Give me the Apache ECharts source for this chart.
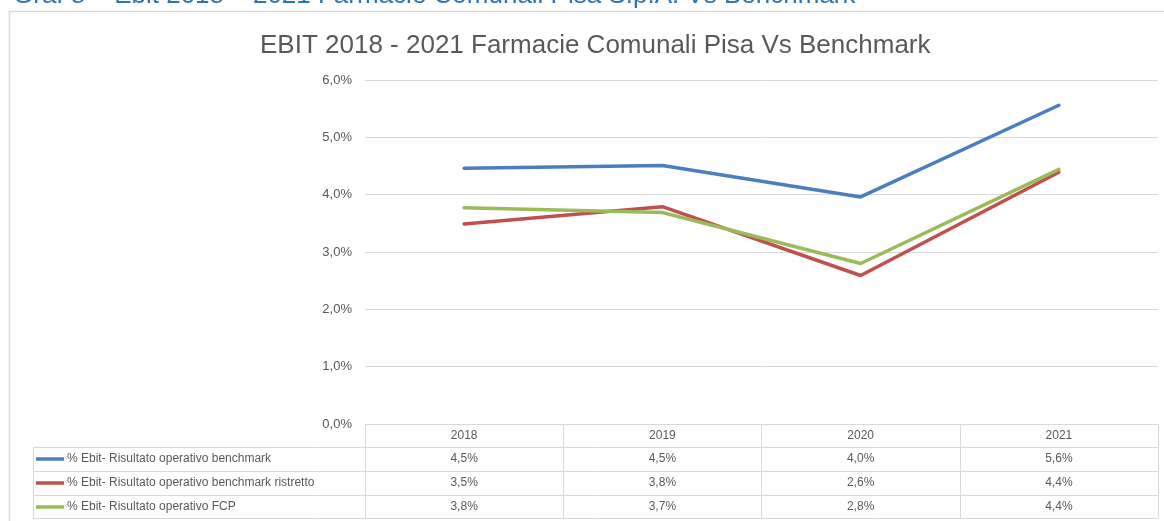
<!DOCTYPE html>
<html>
<head>
<meta charset="utf-8">
<script src="https://cdn.jsdelivr.net/npm/echarts@6/dist/echarts.min.js"></script>
<style>
  html, body { margin: 0; padding: 0; background: #fff; }
  #chart { width: 1164px; height: 521px; }
</style>
</head>
<body>
<div id="chart"></div>
<script>
// dati (valori in %)
const years = ['2018', '2019', '2020', '2021'];
const seriesNames = [
  '% Ebit- Risultato operativo benchmark',
  '% Ebit- Risultato operativo benchmark ristretto',
  '% Ebit- Risultato operativo FCP'
];
const benchmark = [4.46, 4.51, 3.96, 5.56];
const benchmarkRistretto = [3.49, 3.79, 2.59, 4.39];
const fcp = [3.77, 3.69, 2.80, 4.44];
const yTicks = [0, 1, 2, 3, 4, 5, 6];

const colors = ['#4a7ebf', '#c0504d', '#9bbb59'];
const textColor = '#595959';
const lineGrey = '#d9d9d9';
const font = 'Liberation Sans';

const pct = v => v.toFixed(1).replace('.', ',') + '%';

const myChart = echarts.init(document.getElementById('chart'));

const rows = [benchmark, benchmarkRistretto, fcp];

const option = {
  animation: false,
  textStyle: { fontFamily: font },
  title: {
    text: 'EBIT 2018 - 2021 Farmacie Comunali Pisa Vs Benchmark',
    left: 255,
    top: 28,
    textStyle: { fontFamily: font, fontSize: 26, fontWeight: 'normal', color: textColor }
  },
  legend: {
    orient: 'vertical',
    left: 36,
    top: 452,
    height: 120,
    padding: 0,
    icon: 'rect',
    itemWidth: 28,
    itemHeight: 3.5,
    itemGap: 10,
    selectedMode: false,
    data: seriesNames,
    textStyle: { fontFamily: font, fontSize: 12, lineHeight: 14, color: textColor, padding: [0, 0, 0, -2] }
  },
  grid: { left: 365, right: 6, top: 80, bottom: 97 },
  xAxis: {
    type: 'category',
    data: years,
    boundaryGap: true,
    axisLine: { lineStyle: { color: lineGrey } },
    axisTick: { show: true, interval: 0, length: 94, lineStyle: { color: lineGrey } },
    axisLabel: { color: textColor, fontSize: 12, margin: 6, fontFamily: font }
  },
  yAxis: {
    type: 'value',
    min: yTicks[0],
    max: yTicks[yTicks.length - 1],
    interval: 1,
    axisLine: { show: false },
    axisTick: { show: false },
    splitLine: { lineStyle: { color: lineGrey } },
    axisLabel: { color: textColor, fontSize: 13, margin: 13, fontFamily: font, formatter: pct }
  },
  series: rows.map((d, i) => ({
    name: seriesNames[i],
    type: 'line',
    data: d,
    symbol: 'none',
    color: colors[i],
    itemStyle: { color: colors[i] },
    lineStyle: { color: colors[i], width: 3.5, cap: 'round', join: 'round' }
  }))
};
myChart.setOption(option);

// tabella dati sotto il grafico, agganciata alle posizioni degli assi
const y0 = myChart.convertToPixel({ yAxisIndex: 0 }, 0);
const xRight = 1164 - 6;
const rowTops = [y0 + 23, y0 + 47, y0 + 71, y0 + 94];
const graphics = [];

// cornice esterna
graphics.push({
  type: 'rect', silent: true,
  shape: { x: 9.5, y: 11.5, width: 1200, height: 600 },
  style: { fill: null, stroke: lineGrey, lineWidth: 1.5 }
});
// titolo del documento tagliato in alto
graphics.push({
  type: 'text', left: 13, top: -17, silent: true,
  style: {
    text: 'Graf 8 \u2013 Ebit 2018 \u2013 2021 Farmacie Comunali Pisa S.p.A. Vs Benchmark',
    fill: '#2e74b5', font: '26px "Liberation Sans"'
  }
});
rowTops.forEach(y => {
  graphics.push({
    type: 'line', silent: true,
    shape: { x1: 33, y1: Math.round(y) + 0.5, x2: xRight, y2: Math.round(y) + 0.5 },
    style: { stroke: lineGrey, lineWidth: 1 }
  });
});
graphics.push({
  type: 'line', silent: true,
  shape: { x1: 33.5, y1: rowTops[0], x2: 33.5, y2: rowTops[3] },
  style: { stroke: lineGrey, lineWidth: 1 }
});
rows.forEach((d, r) => {
  const cy = (rowTops[r] + rowTops[r + 1]) / 2;
  d.forEach((v, c) => {
    graphics.push({
      type: 'text', silent: true,
      x: myChart.convertToPixel({ xAxisIndex: 0 }, c),
      y: cy,
      style: {
        text: pct(v), fill: textColor, font: '12px "Liberation Sans"',
        align: 'center', verticalAlign: 'middle'
      }
    });
  });
});

myChart.setOption({ graphic: graphics });
</script>
</body>
</html>
